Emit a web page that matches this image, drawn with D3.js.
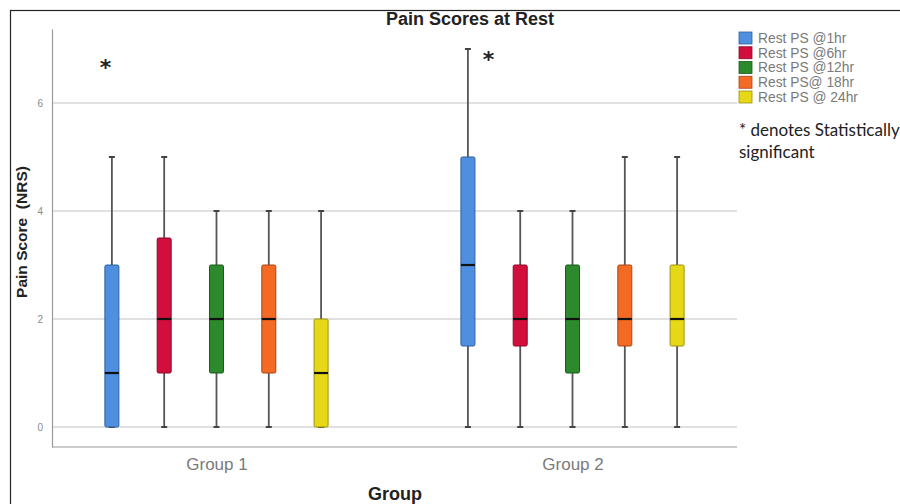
<!DOCTYPE html>
<html><head><meta charset="utf-8">
<script src="https://cdn.jsdelivr.net/npm/d3@7"></script>
<style>body{margin:0;background:#fff}svg{display:block}</style>
</head><body>
<svg id="c" width="900" height="504"></svg>
<script>
const groups = ["Group 1", "Group 2"];
const series = ["Rest PS @1hr", "Rest PS @6hr", "Rest PS @12hr", "Rest PS@ 18hr", "Rest PS @ 24hr"];
const colors = ["#4f8fe0", "#d20f3c", "#2c8a2c", "#f26a24", "#e6d817"];
const strokes = ["#2f5f9f", "#8a0a28", "#1b5a1b", "#a8461a", "#9c9210"];
// [min, q1, median, q3, max] per series, per group
const group1Stats = [[0,0,1,3,5],[0,1,2,3.5,5],[0,1,2,3,4],[0,1,2,3,4],[0,0,1,2,4]];
const group2Stats = [[0,1.5,3,5,7],[0,1.5,2,3,4],[0,1,2,3,4],[0,1.5,2,3,5],[0,1.5,2,3,5]];
const yTicks = [0, 2, 4, 6];
const sigMarks = [{group:"Group 1", value:6.7, dx:-111}, {group:"Group 2", value:6.85, dx:-84}];

const svg = d3.select("#c");
const L = 52, R = 737, T = 29, B = 447;

svg.append("rect").attr("x",10.5).attr("y",10.5).attr("width",900).attr("height",500)
  .attr("fill","none").attr("stroke","#222").attr("stroke-width",1.2);

const x = d3.scalePoint().domain(groups).range([L, R]).padding(0.462);
const xi = d3.scalePoint().domain(series).range([-104.6, 104.6]);
const y = d3.scaleLinear().domain([-0.37, 7.37]).range([B, T]);

// grid
svg.append("g").selectAll("line").data(yTicks).join("line")
  .attr("x1",L).attr("x2",R).attr("y1",d=>y(d)).attr("y2",d=>y(d))
  .attr("stroke","#d6d6d6").attr("stroke-width",1.6);

// axes
const yAxis = d3.axisLeft(y).tickValues(yTicks).tickSize(0).tickPadding(9);
const gy = svg.append("g").attr("transform",`translate(${L},0)`).call(yAxis);
gy.select(".domain").attr("stroke","#9a9a9a").attr("stroke-width",1.2);
gy.selectAll("text").attr("font-family","Liberation Sans, Arial").attr("font-size",10).attr("fill","#8a8a8a");

const xAxis = d3.axisBottom(x).tickSize(0).tickPadding(11);
const gx = svg.append("g").attr("transform",`translate(0,${B})`).call(xAxis);
gx.select(".domain").attr("d",`M${L},0H${R}`).attr("stroke","#9a9a9a").attr("stroke-width",1.2);
gx.selectAll("text").attr("font-family","Liberation Sans, Arial").attr("font-size",17).attr("fill","#7a7a7a");

// boxes
const data = [];
groups.forEach((g,gi)=>{
  const st = gi===0 ? group1Stats : group2Stats;
  series.forEach((s,si)=>{ data.push({g,s,si,v:st[si]}); });
});
const bw = 14;
const box = svg.append("g").selectAll("g").data(data).join("g")
  .attr("transform",d=>`translate(${x(d.g)+xi(d.s)},0)`);
box.append("line").attr("x1",0).attr("x2",0).attr("y1",d=>y(d.v[0])).attr("y2",d=>y(d.v[4]))
  .attr("stroke","#555").attr("stroke-width",1.8);
box.append("line").attr("x1",-3).attr("x2",3).attr("y1",d=>y(d.v[4])).attr("y2",d=>y(d.v[4]))
  .attr("stroke","#444").attr("stroke-width",2);
box.append("line").attr("x1",-3).attr("x2",3).attr("y1",d=>y(d.v[0])).attr("y2",d=>y(d.v[0]))
  .attr("stroke","#444").attr("stroke-width",2);
box.append("rect").attr("x",-bw/2).attr("width",bw)
  .attr("y",d=>y(d.v[3])).attr("height",d=>Math.max(0,y(d.v[1])-y(d.v[3])))
  .attr("rx",1.5)
  .attr("fill",d=>colors[d.si]).attr("stroke",d=>strokes[d.si]).attr("stroke-width",1);
box.append("line").attr("x1",-bw/2).attr("x2",bw/2).attr("y1",d=>y(d.v[2])).attr("y2",d=>y(d.v[2]))
  .attr("stroke","#111").attr("stroke-width",2.2);

// significance asterisks
svg.append("g").selectAll("text").data(sigMarks).join("text")
  .attr("x",d=>x(d.group)+d.dx).attr("y",d=>y(d.value)+10)
  .attr("text-anchor","middle").attr("font-family","DejaVu Sans, sans-serif").attr("font-weight","bold")
  .attr("font-size",22).attr("fill","#222").text("*");

// title
svg.append("text").attr("x",470).attr("y",25).attr("text-anchor","middle")
  .attr("font-family","Liberation Sans, Arial").attr("font-weight","bold").attr("font-size",18)
  .attr("fill","#222").text("Pain Scores at Rest");

// axis titles
svg.append("text").attr("transform",`translate(27,232) rotate(-90)`).attr("text-anchor","middle")
  .attr("font-family","Liberation Sans, Arial").attr("font-weight","bold").attr("font-size",15.5)
  .attr("fill","#222").attr("xml:space","preserve").text("Pain Score  (NRS)");
svg.append("text").attr("x",395).attr("y",500).attr("text-anchor","middle")
  .attr("font-family","Liberation Sans, Arial").attr("font-weight","bold").attr("font-size",18)
  .attr("fill","#222").text("Group");

// legend
const lg = svg.append("g").attr("transform","translate(739,32)");
const li = lg.selectAll("g").data(series).join("g").attr("transform",(d,i)=>`translate(0,${i*14.75})`);
li.append("rect").attr("width",13).attr("height",12).attr("fill",(d,i)=>colors[i])
  .attr("stroke",(d,i)=>strokes[i]).attr("stroke-width",0.8);
li.append("text").attr("x",19).attr("y",10.8).attr("font-family","Liberation Sans, Arial")
  .attr("font-size",13.8).attr("fill","#7a7a7a").text(d=>d);

svg.append("text").attr("x",739).attr("y",136).attr("font-family","Lato, sans-serif")
  .attr("font-size",17).attr("fill","#222").text("* denotes Statistically");
svg.append("text").attr("x",739).attr("y",158).attr("font-family","Lato, sans-serif")
  .attr("font-size",17).attr("fill","#222").text("significant");
</script>
</body></html>
